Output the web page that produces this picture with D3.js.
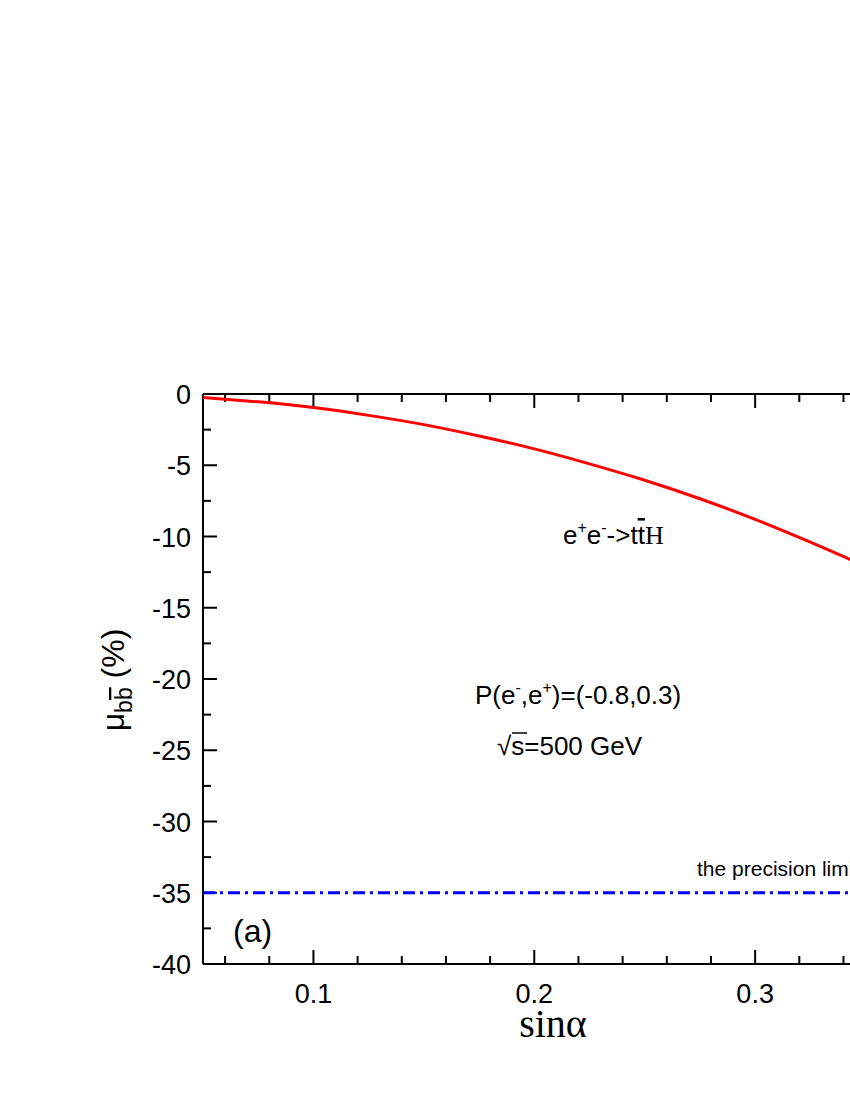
<!DOCTYPE html>
<html><head><meta charset="utf-8">
<script src="https://cdn.jsdelivr.net/npm/d3@7"></script>
<style>body{margin:0;background:#fff}svg{font-family:Arial,"Liberation Sans",sans-serif}</style>
</head><body>
<svg id="c" width="850" height="1100"></svg>
<script>
'use strict'
var sinA = [0.05, 0.075, 0.1, 0.125, 0.15, 0.175, 0.2, 0.225, 0.25, 0.275, 0.3, 0.325, 0.35, 0.375, 0.4];
var mu = [-0.25, -0.55, -0.95, -1.5, -2.15, -2.95, -3.85, -4.9, -6.05, -7.35, -8.8, -10.4, -12.1, -13.9, -15.8];
var precision = -35;
var xTicks = [0.1, 0.2, 0.3];
var yTicks = [0, -5, -10, -15, -20, -25, -30, -35, -40];

var svg = d3.select("#c");
var x = d3.scaleLinear().domain([0.05, 0.4]).range([203, 976]);
var y = d3.scaleLinear().domain([-40, 0]).range([964, 394]);

var g = svg.append("g").attr("stroke", "#000").attr("stroke-width", 2);
// frame
g.append("line").attr("x1", x(0.05)).attr("x2", 850).attr("y1", y(0)).attr("y2", y(0));
g.append("line").attr("x1", x(0.05)).attr("x2", 850).attr("y1", y(-40)).attr("y2", y(-40));
g.append("line").attr("x1", x(0.05)).attr("x2", x(0.05)).attr("y1", y(0)).attr("y2", y(-40));

// x ticks (bottom and top)
d3.range(0.06, 0.401, 0.02).forEach(function(v){
	var major = Math.abs(v*10 - Math.round(v*10)) < 1e-6;
	var len = major ? 14 : 8;
	g.append("line").attr("x1", x(v)).attr("x2", x(v)).attr("y1", y(-40)).attr("y2", y(-40) - len);
	g.append("line").attr("x1", x(v)).attr("x2", x(v)).attr("y1", y(0)).attr("y2", y(0) + len);
});
// y ticks
d3.range(0, -40.1, -2.5).forEach(function(v){
	var major = v % 5 === 0;
	g.append("line").attr("x1", x(0.05)).attr("x2", x(0.05) + (major ? 14 : 8)).attr("y1", y(v)).attr("y2", y(v));
});

svg.selectAll("text.xt").data(xTicks).enter().append("text")
	.attr("x", function(d){return x(d);}).attr("y", 1003).attr("text-anchor", "middle")
	.attr("font-size", 27).text(function(d){return d.toFixed(1);});
svg.selectAll("text.yt").data(yTicks).enter().append("text")
	.attr("x", 191).attr("y", function(d){return y(d) + 10;}).attr("text-anchor", "end")
	.attr("font-size", 27).text(function(d){return d;});

// curve
var line = d3.line().x(function(d){return x(d[0]);}).y(function(d){return y(d[1]);}).curve(d3.curveNatural);
svg.append("path").datum(d3.zip(sinA, mu)).attr("d", line)
	.attr("fill", "none").attr("stroke", "#f00").attr("stroke-width", 3);

// precision line
svg.append("line").attr("x1", x(0.05)).attr("x2", 850).attr("y1", y(precision)).attr("y2", y(precision))
	.attr("stroke", "#00f").attr("stroke-width", 3).attr("stroke-dasharray", "12,5,3,5");

// annotations
var t1 = svg.append("text").attr("x", 563).attr("y", 544).attr("font-size", 26);
t1.append("tspan").text("e");
t1.append("tspan").attr("dy", -11).attr("font-size", 16).text("+");
t1.append("tspan").attr("dy", 11).text("e");
t1.append("tspan").attr("dy", -11).attr("font-size", 16).text("-");
t1.append("tspan").attr("dy", 11).text("->t");
t1.append("tspan").attr("text-decoration", "overline").text("t");
t1.append("tspan").attr("font-family", "Liberation Serif,serif").text("H");

var t2 = svg.append("text").attr("x", 475).attr("y", 704).attr("font-size", 26);
t2.append("tspan").text("P(e");
t2.append("tspan").attr("dy", -11).attr("font-size", 16).text("-");
t2.append("tspan").attr("dy", 11).text(",e");
t2.append("tspan").attr("dy", -11).attr("font-size", 16).text("+");
t2.append("tspan").attr("dy", 11).text(")=(-0.8,0.3)");

svg.append("text").attr("x", 497).attr("y", 755).attr("font-size", 26).text("\u221As=500 GeV");
svg.append("line").attr("x1", 512).attr("x2", 527).attr("y1", 733).attr("y2", 733).attr("stroke", "#000").attr("stroke-width", 1.5);
svg.append("text").attr("x", 697).attr("y", 876).attr("font-size", 21).text("the precision limit");
svg.append("text").attr("x", 233).attr("y", 942).attr("font-size", 32).text("(a)");

// axis titles
svg.append("text").attr("x", 553).attr("y", 1037).attr("text-anchor", "middle")
	.attr("font-family", "Liberation Serif,serif").attr("font-size", 40).text("sin\u03B1");
var yl = svg.append("text").attr("transform", "translate(124,680) rotate(-90)").attr("text-anchor", "middle").attr("font-size", 32);
yl.append("tspan").text("\u03BC");
yl.append("tspan").attr("dy", 8).attr("font-size", 23).text("b");
yl.append("tspan").attr("text-decoration", "overline").attr("font-size", 23).text("b");
yl.append("tspan").attr("dy", -8).text(" (%)");
</script>
</body></html>
